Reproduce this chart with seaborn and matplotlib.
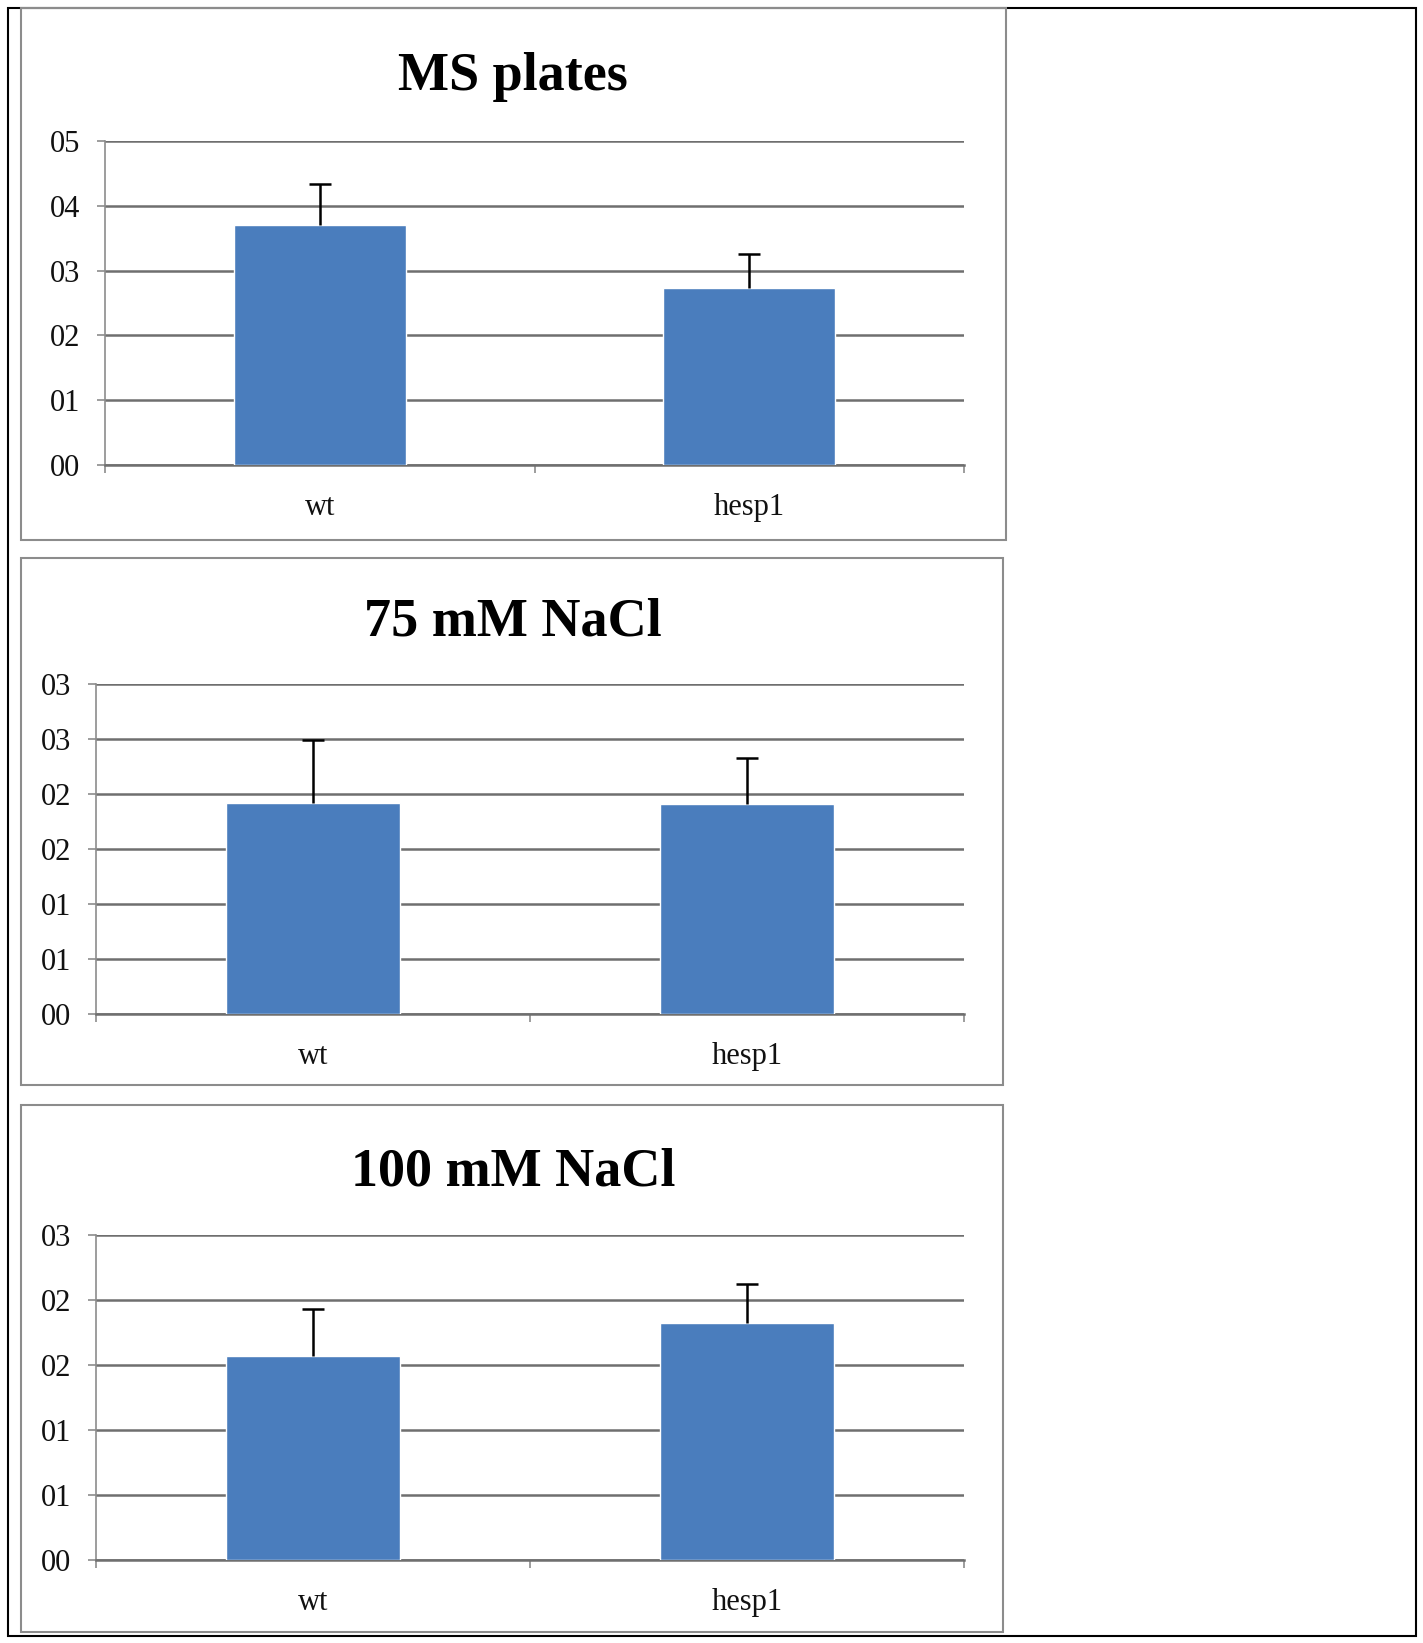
import numpy as np
import matplotlib
matplotlib.use("Agg")
import matplotlib.pyplot as plt
import seaborn as sns
from matplotlib.patches import Rectangle

sns.set_style("white")
plt.rcParams['font.family'] = ['Liberation Serif', 'DejaVu Serif']

# data
categories = ["wt", "hesp1"]
titles = ["MS plates", "75 mM NaCl", "100 mM NaCl"]
ms_vals = [0.371, 0.273]
ms_err = [0.063, 0.052]
nacl75_vals = [0.192, 0.191]
nacl75_err = [0.057, 0.042]
nacl100_vals = [0.157, 0.182]
nacl100_err = [0.036, 0.030]

ms_ticks = [0.0, 0.1, 0.2, 0.3, 0.4, 0.5]
ms_ticklabels = ["00", "01", "02", "03", "04", "05"]
nacl75_ticks = [0.0, 0.05, 0.10, 0.15, 0.20, 0.25, 0.30]
nacl75_ticklabels = ["00", "01", "01", "02", "02", "03", "03"]
nacl100_ticks = [0.0, 0.05, 0.10, 0.15, 0.20, 0.25]
nacl100_ticklabels = ["00", "01", "01", "02", "02", "03"]

panels = [
    (titles[0], ms_vals, ms_err, ms_ticks, ms_ticklabels),
    (titles[1], nacl75_vals, nacl75_err, nacl75_ticks, nacl75_ticklabels),
    (titles[2], nacl100_vals, nacl100_err, nacl100_ticks, nacl100_ticklabels),
]

W, H = 1423, 1643
fig = plt.figure(figsize=(W / 100, H / 100), dpi=100)


def rect(x0, y0, x1, y1):
    return [x0 / W, 1 - y1 / H, (x1 - x0) / W, (y1 - y0) / H]


# outer frame
fig.patches.append(Rectangle((8 / W, 1 - 1636 / H), 1408 / W, 1628 / H,
                             transform=fig.transFigure, fill=False,
                             edgecolor="black", lw=1.5))

# panel boxes (px), axes areas (px), title positions (px)
boxes = [(21, 8, 1006, 540), (21, 558, 1003, 1085), (21, 1105, 1003, 1632)]
axes_px = [(105, 141, 964, 465), (96, 684, 964, 1014), (96, 1235, 964, 1560)]
title_px = [(513, 77), (513, 622), (513, 1173)]

bar_color = "#4a7dbd"
grid_color = "#6f6f6f"

for (title, vals, err, ticks, ticklabels), box, apx, tpx in zip(panels, boxes, axes_px, title_px):
    x0, y0, x1, y1 = box
    fig.patches.append(Rectangle((x0 / W, 1 - y1 / H), (x1 - x0) / W, (y1 - y0) / H,
                                 transform=fig.transFigure, fill=False,
                                 edgecolor="#8c8c8c", lw=1.5))
    fig.text(tpx[0] / W, 1 - tpx[1] / H, title, ha="center", va="center",
             fontsize=39, fontweight="bold", color="black")

    ax = fig.add_axes(rect(*apx))
    sns.barplot(x=categories, y=vals, color=bar_color, width=0.4,
                saturation=1, ax=ax, zorder=3)
    _, caps, _ = ax.errorbar([0, 1], vals, yerr=[[0, 0], err], fmt="none", ecolor="black",
                             elinewidth=1.8, capsize=8, capthick=1.8, zorder=4)
    # only the upper cap is drawn in the original
    caps[0].set_visible(False)

    ax.set_xlim(-0.5, 1.5)
    ax.set_ylim(0, ticks[-1])
    ax.set_yticks(ticks)
    ax.set_yticklabels(ticklabels)
    ax.yaxis.grid(True, color=grid_color, lw=1.8, zorder=0)
    ax.set_axisbelow(True)

    for s in ["top", "right"]:
        ax.spines[s].set_visible(False)
    ax.spines["left"].set_color("#8c8c8c")
    ax.spines["left"].set_linewidth(1.2)
    ax.spines["bottom"].set_color(grid_color)
    ax.spines["bottom"].set_linewidth(1.8)

    ax.set_xticks([-0.5, 0.5, 1.5], minor=True)
    ax.tick_params(axis="x", which="minor", bottom=True, length=6, width=1.2,
                   color="#8c8c8c", direction="out")
    ax.tick_params(axis="x", which="major", bottom=False, length=0, pad=20,
                   labelsize=22, labelcolor="#111111")
    ax.tick_params(axis="y", left=True, length=6, width=1.2, color="#8c8c8c",
                   direction="out", pad=12, labelsize=22, labelcolor="#111111")
    ax.set_xlabel("")
    ax.set_ylabel("")

fig.savefig("out.png", dpi=100)
